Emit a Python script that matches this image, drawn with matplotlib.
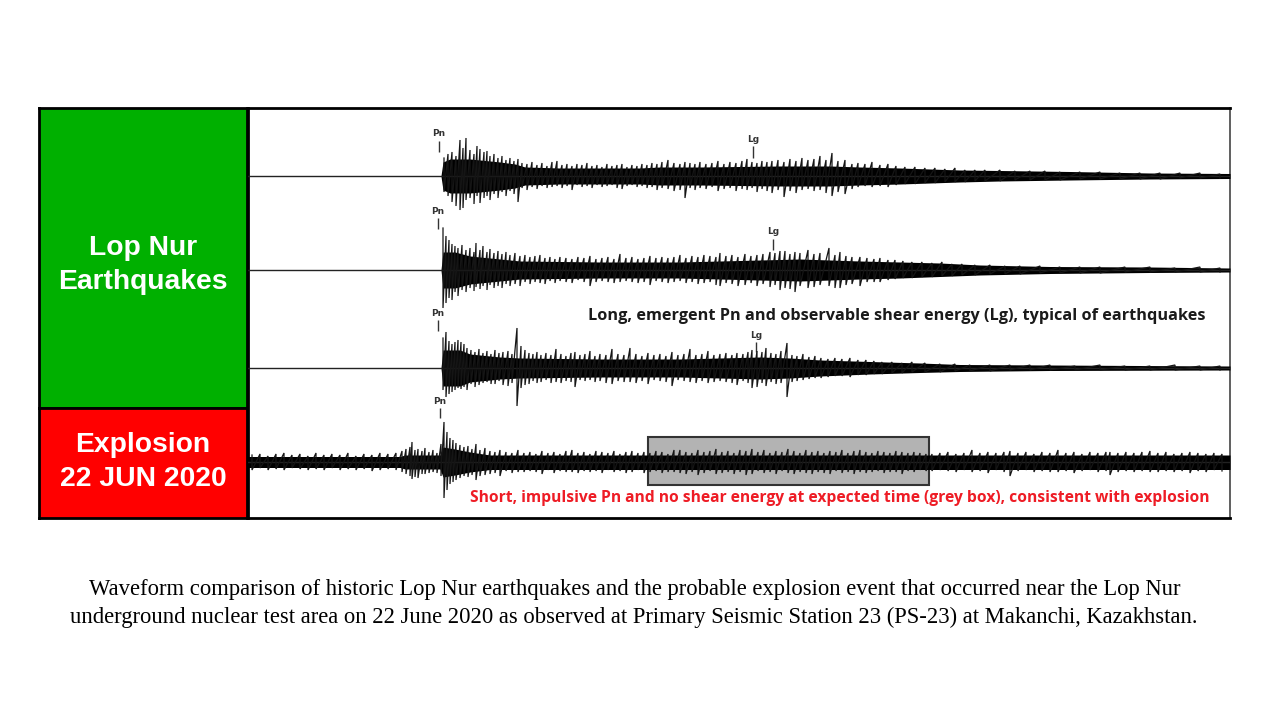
import matplotlib
matplotlib.use("Agg")
import matplotlib.pyplot as plt
from matplotlib.patches import Rectangle

# ---------------- data (time in display samples, amplitude in counts) ----------------
# dense core envelope of each trace: time, upper amplitude, lower amplitude
T1_ENV_T  = [248, 441, 443, 450, 470, 500, 515, 525, 560, 640, 660, 700, 780, 830, 860, 900, 960, 1000, 1070, 1150, 1230]
T1_ENV_UP = [0.4, 0.4, 14, 17, 17, 14, 12, 9, 8, 8, 9, 9, 10, 10, 9, 8, 6, 5.5, 4.5, 3, 2.5]
T1_ENV_DN = [0.4, 0.4, 14, 17, 17, 14, 12, 9, 8, 8, 9, 9, 10, 10, 9, 8, 6, 5, 4, 3, 2.5]
# individual peaks: (time, up, down)
T1_SPIKES = [(444, 18, 16), (448, 22, 20), (452, 24, 26), (456, 20, 30), (460, 36, 34), (463, 28, 32),
             (466, 38, 24), (470, 26, 22), (474, 22, 28), (477, 30, 20), (480, 27, 27), (484, 24, 22),
             (487, 25, 20), (490, 20, 24), (494, 22, 18), (498, 18, 22), (502, 20, 16), (506, 16, 20),
             (510, 18, 15), (514, 15, 18), (518, 17, 26), (522, 13, 12), (527, 12, 14), (532, 14, 11),
             (537, 11, 13), (542, 13, 10), (547, 10, 12), (552, 14, 11), (557, 15, 10), (562, 11, 12),
             (567, 12, 10), (572, 10, 14), (577, 12, 9), (582, 11, 11), (587, 13, 10), (592, 10, 12),
             (597, 11, 9), (602, 9, 11), (607, 12, 10), (612, 10, 9), (617, 11, 12), (622, 12, 13),
             (627, 9, 10), (632, 11, 9), (637, 10, 11), (642, 12, 10), (647, 11, 12), (652, 13, 11),
             (657, 12, 14), (662, 14, 12), (668, 16, 13), (674, 13, 15), (680, 12, 14), (685, 14, 22),
             (690, 13, 12), (695, 12, 14), (700, 14, 12), (706, 12, 13), (712, 13, 11), (718, 15, 15),
             (724, 12, 13), (730, 14, 12), (736, 13, 15), (742, 15, 13), (747, 17, 14), (752, 14, 12),
             (757, 13, 16), (762, 15, 13), (767, 14, 15), (772, 15, 17), (778, 16, 14), (784, 14, 21),
             (790, 17, 15), (796, 15, 17), (802, 18, 14), (808, 16, 13), (814, 17, 15), (820, 20, 14),
             (826, 16, 17), (832, 23, 20), (838, 15, 16), (845, 16, 18), (852, 12, 13), (858, 13, 11),
             (865, 12, 10), (872, 14, 11), (880, 11, 10), (888, 12, 11), (896, 10, 9), (905, 9, 8),
             (915, 9, 8), (925, 8, 7), (935, 8, 7), (945, 7, 6), (955, 8, 6), (965, 6, 6), (975, 6, 5),
             (985, 6, 5), (1000, 6, 5), (1015, 5, 4), (1030, 5, 4), (1045, 5, 4), (1060, 4, 4),
             (1080, 4, 3), (1100, 4, 3), (1120, 3, 3), (1140, 3, 3), (1160, 3, 3), (1180, 3, 2),
             (1200, 3, 2), (1220, 2, 2)]

T2_ENV_T  = [248, 441, 443, 455, 470, 500, 520, 600, 680, 720, 760, 800, 830, 860, 900, 940, 980, 1050, 1150, 1230]
T2_ENV_UP = [0.4, 0.4, 18, 18, 14, 11, 9, 8, 8, 9, 10, 11, 10, 9, 8, 7, 5, 3.5, 3, 2]
T2_ENV_DN = [0.4, 0.4, 18, 18, 14, 11, 9, 8, 8, 9, 10, 11, 10, 9, 8, 6.5, 5, 3.5, 2.5, 2]
T2_SPIKES = [(443, 42, 38), (446, 34, 33), (449, 30, 28), (452, 26, 30), (455, 24, 22), (458, 22, 26),
             (462, 25, 20), (466, 20, 22), (470, 22, 18), (474, 18, 21), (476, 27, 17), (480, 20, 19),
             (483, 24, 16), (487, 18, 20), (490, 21, 15), (494, 17, 18), (498, 19, 16), (502, 16, 18),
             (506, 18, 14), (510, 15, 16), (515, 17, 14), (520, 14, 16), (525, 15, 12), (530, 13, 14),
             (535, 14, 12), (540, 15, 13), (545, 12, 14), (550, 13, 11), (555, 11, 13), (560, 13, 11),
             (566, 12, 12), (572, 11, 13), (578, 13, 10), (584, 12, 12), (590, 14, 16), (596, 11, 12),
             (602, 12, 11), (608, 13, 12), (614, 11, 13), (620, 16, 12), (626, 12, 11), (632, 13, 12),
             (638, 11, 13), (644, 12, 12), (650, 14, 15), (656, 12, 11), (662, 13, 12), (668, 12, 13),
             (674, 13, 12), (680, 15, 11), (686, 12, 13), (692, 14, 12), (698, 13, 14), (704, 15, 13),
             (710, 14, 12), (716, 13, 15), (720, 17, 16), (726, 14, 13), (732, 15, 14), (738, 13, 16),
             (745, 16, 15), (751, 14, 13), (757, 15, 16), (763, 16, 14), (770, 18, 17), (775, 17, 15),
             (780, 19, 20), (785, 19, 18), (790, 16, 19), (795, 18, 22), (800, 17, 16), (808, 20, 18),
             (814, 16, 17), (820, 17, 15), (829, 22, 16), (835, 15, 18), (840, 18, 18), (846, 14, 15),
             (852, 13, 14), (860, 13, 16), (867, 12, 12), (874, 11, 12), (880, 12, 12), (888, 10, 10),
             (895, 10, 9), (903, 9, 8), (912, 8, 8), (922, 8, 7), (932, 7, 7), (942, 8, 6), (952, 6, 6),
             (962, 6, 5), (975, 5, 5), (990, 5, 4), (1005, 4, 4), (1020, 4, 4), (1040, 4, 3),
             (1060, 3, 3), (1080, 3, 3), (1100, 3, 3), (1125, 3, 2), (1150, 3, 2), (1175, 2, 2),
             (1200, 3, 2), (1220, 2, 2)]

T3_ENV_T  = [248, 441, 443, 460, 470, 500, 520, 600, 680, 720, 760, 790, 820, 870, 920, 960, 1050, 1230]
T3_ENV_UP = [0.5, 0.5, 18, 18, 14, 11, 10, 9, 9, 10, 11, 10, 8, 6.5, 5, 3.5, 3, 2]
T3_ENV_DN = [0.5, 0.5, 18, 18, 14, 11, 10, 9, 9, 10, 11, 10, 8, 6, 4.5, 3.5, 2.5, 2]
T3_SPIKES = [(443, 30, 22), (446, 36, 29), (449, 27, 26), (452, 24, 24), (455, 26, 22), (458, 28, 20),
             (461, 26, 21), (464, 24, 19), (467, 20, 22), (471, 18, 16), (475, 16, 19), (479, 19, 17),
             (483, 15, 15), (487, 17, 14), (491, 14, 16), (495, 18, 16), (499, 15, 13), (503, 16, 17),
             (508, 17, 18), (512, 14, 15), (517, 40, 38), (521, 22, 20), (525, 18, 17), (529, 15, 16),
             (533, 14, 13), (537, 16, 15), (541, 13, 14), (546, 15, 12), (551, 13, 15), (556, 19, 14),
             (561, 14, 15), (566, 12, 13), (571, 15, 14), (575, 16, 19), (580, 13, 12), (585, 14, 13),
             (590, 17, 12), (595, 12, 14), (600, 14, 13), (606, 13, 15), (612, 19, 16), (618, 14, 13),
             (624, 13, 14), (630, 20, 14), (636, 14, 15), (642, 12, 13), (648, 15, 16), (654, 13, 12),
             (660, 14, 13), (666, 12, 14), (672, 16, 18), (678, 13, 12), (684, 14, 13), (690, 19, 14),
             (696, 13, 15), (702, 14, 13), (708, 17, 15), (714, 13, 14), (720, 14, 13), (726, 15, 14),
             (732, 13, 15), (737, 15, 17), (743, 14, 13), (748, 16, 15), (752, 18, 20), (757, 17, 19),
             (762, 16, 15), (766, 20, 18), (771, 15, 14), (776, 14, 16), (781, 17, 15), (787, 25, 29),
             (792, 13, 14), (797, 12, 13), (803, 14, 12), (809, 11, 11), (815, 12, 10), (821, 10, 10),
             (828, 9, 9), (835, 10, 8), (842, 9, 8), (850, 10, 9), (858, 8, 7), (866, 8, 7), (874, 7, 6),
             (882, 6, 6), (892, 6, 5), (902, 5, 5), (912, 6, 4), (925, 5, 4), (940, 4, 4), (955, 4, 3),
             (970, 3, 3), (990, 3, 3), (1010, 3, 2), (1030, 3, 2), (1050, 3, 2), (1075, 2, 2),
             (1100, 3, 2), (1125, 2, 2), (1150, 2, 2), (1175, 3, 2), (1200, 2, 2), (1220, 2, 2)]

T4_ENV_T  = [248, 400, 405, 440, 443, 455, 470, 490, 1230]
T4_ENV_UP = [5.5, 5.5, 7, 7, 15, 13, 10, 7, 7]
T4_ENV_DN = [5.5, 5.5, 7, 7, 15, 13, 10, 7.5, 7.5]
T4_SPIKES = [(252, 7, 8), (260, 8, 6), (268, 6, 8), (276, 8, 7), (284, 9, 8), (292, 7, 6), (300, 8, 7),
             (308, 6, 8), (316, 9, 7), (324, 7, 8), (332, 8, 6), (340, 7, 8), (348, 9, 7), (356, 6, 8),
             (364, 8, 7), (372, 7, 9), (380, 9, 8), (388, 8, 7), (396, 9, 8), (402, 11, 10), (406, 13, 12),
             (410, 15, 14), (412, 20, 17), (415, 12, 15), (418, 13, 16), (422, 11, 12), (425, 14, 12),
             (429, 10, 11), (433, 12, 10), (437, 9, 11), (441, 18, 14), (444, 40, 36), (447, 30, 28),
             (450, 24, 22), (453, 22, 20), (456, 19, 18), (460, 17, 16), (464, 15, 14), (468, 16, 15),
             (472, 13, 13), (476, 18, 18), (480, 12, 14), (485, 14, 13), (490, 11, 12), (495, 10, 11),
             (500, 12, 14), (506, 10, 9), (512, 9, 11), (518, 12, 10), (524, 9, 10), (530, 10, 9),
             (536, 8, 10), (542, 11, 12), (548, 9, 8), (554, 10, 11), (560, 8, 9), (566, 11, 10),
             (572, 12, 10), (578, 9, 11), (584, 10, 9), (590, 8, 10), (596, 11, 9), (602, 10, 11),
             (608, 9, 8), (614, 11, 10), (620, 8, 9), (626, 10, 11), (632, 11, 10), (638, 9, 8),
             (644, 10, 11), (650, 9, 10), (656, 11, 9), (662, 10, 11), (668, 8, 10), (674, 12, 10),
             (680, 12, 11), (686, 10, 12), (692, 9, 10), (698, 12, 13), (704, 10, 11), (710, 11, 9),
             (716, 13, 12), (722, 10, 11), (728, 11, 10), (734, 9, 12), (740, 12, 10), (746, 11, 13),
             (752, 13, 12), (758, 10, 9), (764, 12, 11), (770, 9, 10), (776, 11, 12), (782, 10, 9),
             (788, 13, 11), (794, 11, 12), (800, 9, 10), (806, 12, 11), (812, 10, 12), (818, 11, 10),
             (824, 9, 11), (830, 11, 12), (836, 10, 9), (842, 12, 11), (848, 9, 10), (854, 11, 12),
             (860, 12, 10), (866, 10, 11), (872, 9, 10), (878, 11, 9), (884, 10, 11), (890, 9, 10),
             (896, 11, 10), (902, 10, 12), (908, 9, 9), (914, 10, 10), (920, 9, 8), (926, 8, 9),
             (932, 8, 9), (940, 9, 8), (948, 10, 9), (956, 8, 10), (964, 9, 8), (972, 12, 10),
             (980, 9, 9), (988, 10, 11), (996, 9, 8), (1004, 10, 10), (1010, 11, 14), (1018, 9, 9),
             (1026, 10, 8), (1034, 8, 10), (1042, 10, 9), (1050, 9, 10), (1058, 12, 10), (1066, 9, 9),
             (1074, 10, 11), (1082, 8, 9), (1090, 10, 8), (1098, 9, 10), (1106, 10, 9), (1110, 10, 13),
             (1118, 9, 10), (1126, 10, 9), (1134, 9, 10), (1142, 10, 9), (1150, 11, 10), (1158, 9, 10),
             (1166, 10, 9), (1174, 8, 10), (1182, 9, 9), (1190, 10, 11), (1198, 9, 9), (1206, 8, 10),
             (1214, 9, 8), (1222, 8, 9)]

PN_T = [439, 438, 438, 440]          # Pn pick times
LG_T = [753, 773, 756]               # Lg pick times (earthquakes only)
BOX_T = [648, 929]                   # expected Lg window for the explosion

PANEL_LABELS = ["Lop Nur\nEarthquakes", "Explosion\n22 JUN 2020"]
NOTE_EQ = "Long, emergent Pn and observable shear energy (Lg), typical of earthquakes"
NOTE_EX = "Short, impulsive Pn and no shear energy at expected time (grey box), consistent with explosion"
CAPTION = ["Waveform comparison of historic Lop Nur earthquakes and the probable explosion event that occurred near the Lop Nur",
           "underground nuclear test area on 22 June 2020 as observed at Primary Seismic Station 23 (PS-23) at Makanchi, Kazakhstan."]

TRACES = [
    (T1_ENV_T, T1_ENV_UP, T1_ENV_DN, T1_SPIKES),
    (T2_ENV_T, T2_ENV_UP, T2_ENV_DN, T2_SPIKES),
    (T3_ENV_T, T3_ENV_UP, T3_ENV_DN, T3_SPIKES),
    (T4_ENV_T, T4_ENV_UP, T4_ENV_DN, T4_SPIKES),
]

# ---------------- layout ----------------
W, H = 1280, 720
fig = plt.figure(figsize=(W / 100, H / 100), dpi=100)
fig.patch.set_facecolor("white")

def fx(px):
    return px / W

def fy(py):
    return 1 - py / H

# side panels
ax_g = fig.add_axes([fx(39), fy(408), fx(247 - 39), (408 - 108) / H])
ax_r = fig.add_axes([fx(39), fy(518), fx(247 - 39), (518 - 408) / H])
for a, col, lab, yc in [(ax_g, "#00b000", PANEL_LABELS[0], 0.477), (ax_r, "#ff0000", PANEL_LABELS[1], 0.51)]:
    a.set_facecolor(col)
    a.set_xticks([]); a.set_yticks([])
    for s in a.spines.values():
        s.set_linewidth(2); s.set_color("black")
    a.text(0.5, yc, lab, ha="center", va="center", color="white", fontsize=20.3,
           fontweight="bold", family="Liberation Sans", linespacing=1.4, transform=a.transAxes)

# waveform axes
ax = fig.add_axes([fx(248), fy(518), fx(1230 - 248), (518 - 108) / H])
ax.set_xlim(248, 1230)
ax.set_ylim(0, 410)
ax.set_xticks([]); ax.set_yticks([])
for s in ax.spines.values():
    s.set_linewidth(2); s.set_color("black")
ax.spines["right"].set_linewidth(1.2)
ax.spines["right"].set_color("#444444")

OFFSETS = [342, 248, 150, 56]
PN_LAB = [43, 58, 54, 60]
PN_TICK = [(24, 35), (41, 52), (37, 48), (44, 54)]
LG_LAB = [36, 38, 32]
LG_TICK = [(18, 30), (20, 31), (16, 26)]

# grey box (behind explosion trace)
ax.add_patch(Rectangle((BOX_T[0], OFFSETS[3] - 23), BOX_T[1] - BOX_T[0], 48,
                       facecolor="#b3b3b3", edgecolor="#333333", linewidth=1.5, zorder=1))

for (et, eu, ed, spikes), off in zip(TRACES, OFFSETS):
    ax.fill_between(et, [off + v for v in eu], [off - v for v in ed],
                    color="black", linewidth=0, zorder=3)
    ax.plot(et, [off] * len(et), color="#222222", linewidth=1.0, zorder=3)
    # oscillating trace through the peaks: up-swing then down-swing at each peak time
    xs, ys = [], []
    for t, up, dn in spikes:
        xs += [t, t]
        ys += [off + up, off - dn]
    ax.plot(xs, ys, color="#151515", linewidth=0.9, zorder=3, solid_joinstyle="miter")

lab_kw = dict(ha="center", va="center", fontsize=6.5, fontweight="bold", color="#333333", family="DejaVu Sans")
for i, t in enumerate(PN_T):
    off = OFFSETS[i]
    ax.text(t, off + PN_LAB[i], "Pn", **lab_kw)
    ax.vlines(t, off + PN_TICK[i][0], off + PN_TICK[i][1], color="#333333", linewidth=1)
for i, t in enumerate(LG_T):
    off = OFFSETS[i]
    ax.text(t, off + LG_LAB[i], "Lg", **lab_kw)
    ax.vlines(t, off + LG_TICK[i][0], off + LG_TICK[i][1], color="#333333", linewidth=1)

fig.canvas.draw()
renderer = fig.canvas.get_renderer()

def fit_width(txt, target):
    w = txt.get_window_extent(renderer).width
    txt.set_fontsize(txt.get_fontsize() * target / w)

t_eq = ax.text(588, 202, NOTE_EQ, ha="left", va="center", fontsize=10, fontweight="bold",
               family="Open Sans", color="#1a1a1a", zorder=5)
t_ex = ax.text(470, 20, NOTE_EX, ha="left", va="center", fontsize=10, fontweight="bold",
               family="Open Sans", color="#ee1c25", zorder=5)
c1 = fig.text(fx(635), fy(590), CAPTION[0], ha="center", va="center", fontsize=14.5,
              family="Liberation Serif", color="black")
c2 = fig.text(fx(634), fy(617), CAPTION[1], ha="center", va="center", fontsize=14.5,
              family="Liberation Serif", color="black")
fit_width(t_eq, 615)
fit_width(t_ex, 739)
fit_width(c1, 1090)
fit_width(c2, 1127)

fig.savefig("out.png", dpi=100, facecolor="white")
